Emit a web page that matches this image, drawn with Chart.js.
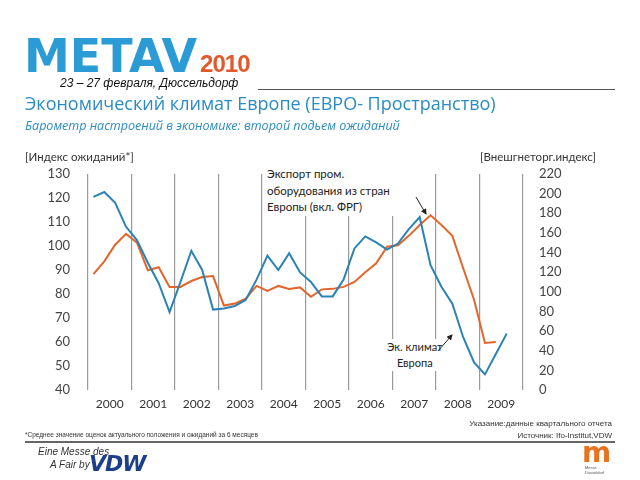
<!DOCTYPE html>
<html>
<head>
<meta charset="utf-8">
<script src="https://cdn.jsdelivr.net/npm/chart.js@4.4.0/dist/chart.umd.min.js"></script>
<style>
  body { margin: 0; background: #fff; }
  #wrap { position: relative; width: 640px; height: 480px; overflow: hidden; font-family: Lato, sans-serif; }
  #chart { position: absolute; left: 0; top: 0; }
  .t { position: absolute; white-space: nowrap; }
</style>
</head>
<body>
<div id="wrap">
  <canvas id="chart" width="640" height="480"></canvas>

  <div class="t" style="left:24px;top:29px;font:bold 46px 'DejaVu Sans',sans-serif;color:#2b9bd6;letter-spacing:0;">METAV<span style="font:bold 24px 'Liberation Sans',sans-serif;color:#e2592b;letter-spacing:-1px;margin-left:3px">2010</span></div>
  <div class="t" style="left:60px;top:76px;font:italic 12px 'Liberation Sans',sans-serif;color:#111;">23 – 27 февраля, Дюссельдорф</div>
  <div style="position:absolute;left:258px;top:89px;width:357px;border-top:1px solid #555;"></div>
  <div class="t" style="left:25px;top:91px;font:18px 'Open Sans',sans-serif;color:#2a8cc4;">Экономический климат Европе (ЕВРО- Пространство)</div>
  <div class="t" style="left:25px;top:117px;font:italic 12.5px 'Open Sans',sans-serif;color:#2a8cc4;">Барометр настроений в экономике: второй подьем ожиданий</div>

  <div class="t" style="left:25px;top:150px;font:11.5px Lato,sans-serif;color:#333;">[Индекс ожиданий*]</div>
  <div class="t" style="left:480px;top:150px;font:11.5px Lato,sans-serif;color:#333;">[Внешгнеторг.индекс]</div>

  <div class="t" style="left:265px;top:166px;font:11.5px Lato,sans-serif;color:#222;line-height:16.5px;background:#fff;padding:0 5px 0 2px;">Экспорт пром.<br>оборудования из стран<br>Европы (вкл. ФРГ)</div>
  <div class="t" style="left:385px;top:339px;font:11px Lato,sans-serif;color:#222;line-height:16px;background:#fff;text-align:center;padding:0 2px;">Эк. климат<br>Европа</div>
  <svg style="position:absolute;left:0;top:0" width="640" height="480">
    <defs><marker id="ah" markerWidth="6" markerHeight="6" refX="5" refY="3" orient="auto"><path d="M0,0 L6,3 L0,6 z" fill="#222"/></marker></defs>
    <line x1="416" y1="197" x2="426" y2="214" stroke="#222" stroke-width="1" marker-end="url(#ah)"/>
    <line x1="438" y1="351" x2="452" y2="335" stroke="#222" stroke-width="1" marker-end="url(#ah)"/>
  </svg>

  <div class="t" style="right:28px;top:419px;font:8px 'Liberation Sans',sans-serif;color:#333;">Указание:данные квартального отчета</div>
  <div class="t" style="left:25px;top:431px;font:6.5px 'Liberation Sans',sans-serif;color:#333;">*Среднее значение оценок актуального положения и ожиданий  за 6 месяцев</div>
  <div class="t" style="right:28px;top:431px;font:8px 'Liberation Sans',sans-serif;color:#333;">Источник: Ifo-Institut,VDW</div>
  <div style="position:absolute;left:25px;top:441px;width:590px;border-top:2px solid #666;"></div>
  <div class="t" style="left:38px;top:446px;font:italic 10px 'Liberation Sans',sans-serif;color:#333;">Eine Messe des</div>
  <div class="t" style="left:50px;top:459px;font:italic 10px 'Liberation Sans',sans-serif;color:#333;">A Fair by</div>
  <div class="t" style="left:89px;top:451px;font:italic bold 22px 'DejaVu Sans',sans-serif;color:#1d3f8a;letter-spacing:-1px;">VDW</div>
  <div class="t" style="left:582px;top:436px;font:bold 28px 'DejaVu Sans',sans-serif;color:#e8731f;">m</div>
  <div class="t" style="left:585px;top:465px;font:4px 'Liberation Sans',sans-serif;color:#555;line-height:5px;">Messe<br>Düsseldorf</div>
</div>

<script>
const years = ['2000', '2001', '2002', '2003', '2004', '2005', '2006', '2007', '2008', '2009'];

// Эк. климат Европа, quarterly from Q1 2000 (left axis)
const climateEurope = [
  120.5, 122.5, 118, 108,
  102.5, 93, 84.5, 72.5,
  85, 98, 90, 73.5,
  74, 75, 77.5, 86,
  96, 90, 97, 89,
  85, 79, 79, 86,
  99, 104, 101.5, 98.5,
  101, 107, 112, 92,
  83, 76, 62, 51.5,
  46.5, 55, 63.5
];

// Экспорт пром. оборудования, quarterly from Q1 2000 (right axis)
const exportIndex = [
  118, 131, 148, 159,
  150, 122, 125, 105,
  105, 111, 115, 116,
  86, 88, 93, 106,
  101, 106, 103, 104.5,
  95, 102.5, 103, 105,
  110, 120, 129, 146,
  147.5, 157, 168, 178,
  168, 157, 124, 92,
  48, 49
];

const toPoints = (arr) => arr.map((v, i) => ({ x: i + 0.5, y: v }));

const tickFont = { family: 'Lato', size: 13 };

new Chart(document.getElementById('chart'), {
  type: 'line',
  data: {
    datasets: [
      {
        label: 'Эк. климат Европа',
        data: toPoints(climateEurope),
        yAxisID: 'y',
        borderColor: '#2a82b6',
        borderWidth: 2,
        pointRadius: 0,
        tension: 0,
      },
      {
        label: 'Экспорт пром. оборудования',
        data: toPoints(exportIndex),
        yAxisID: 'y2',
        borderColor: '#e2652c',
        borderWidth: 2,
        pointRadius: 0,
        tension: 0,
      },
    ],
  },
  options: {
    responsive: false,
    animation: false,
    layout: { padding: { top: 174, bottom: 60, left: 0, right: 0 } },
    plugins: { legend: { display: false }, tooltip: { enabled: false } },
    scales: {
      x: {
        type: 'linear',
        min: 0,
        max: 40,
        afterBuildTicks: (scale) => {
          const t = [];
          for (let v = 0; v <= 40; v += 2) t.push({ value: v });
          scale.ticks = t;
        },
        afterFit: (scale) => { scale.height = 30; },
        border: { display: false },
        grid: {
          drawTicks: false,
          color: (ctx) => (ctx.tick && ctx.tick.value % 4 === 0 ? '#9a9a9a' : 'rgba(0,0,0,0)'),
          lineWidth: 1.2,
        },
        ticks: {
          autoSkip: false,
          maxRotation: 0,
          padding: 7,
          color: '#333',
          font: { family: 'Lato', size: 12 },
          callback: (v) => (v % 4 === 2 ? years[(v - 2) / 4] : ''),
        },
      },
      y: {
        position: 'left',
        min: 40,
        max: 130,
        afterFit: (scale) => { scale.width = 88; },
        border: { display: false },
        grid: { display: false },
        ticks: { stepSize: 10, padding: 10, color: '#444', font: tickFont },
      },
      y2: {
        position: 'right',
        min: 0,
        max: 220,
        afterFit: (scale) => { scale.width = 117; },
        border: { display: false },
        grid: { display: false },
        ticks: { stepSize: 20, padding: 8, color: '#444', font: tickFont },
      },
    },
  },
});
</script>
</body>
</html>
